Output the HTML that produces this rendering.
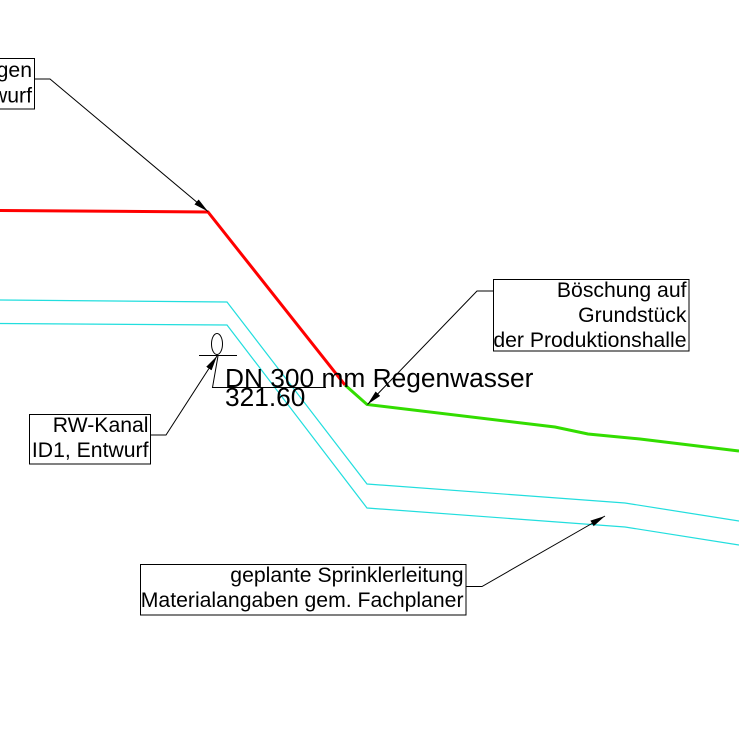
<!DOCTYPE html>
<html>
<head>
<meta charset="utf-8">
<style>
html,body{margin:0;padding:0;background:#fff;}
svg{display:block;}
text{font-family:"Liberation Sans",Arial,sans-serif;fill:#000;}
</style>
</head>
<body>
<svg width="739" height="739" viewBox="0 0 739 739" xmlns="http://www.w3.org/2000/svg">
<defs>
<marker id="ah" viewBox="0 -4 15 8" refX="15" refY="0" markerWidth="15" markerHeight="8" markerUnits="userSpaceOnUse" orient="auto">
<path d="M0,-3.2 L15,0 L0,3.2 z" fill="#000"/>
</marker>
</defs>
<rect width="739" height="739" fill="#fff"/>

<!-- cyan sprinkler lines -->
<polyline points="0,300 227,302 367,484 625,503 739,521" fill="none" stroke="#22dede" stroke-width="1.2"/>
<polyline points="0,323.5 227,325 367,508 625,527 739,545" fill="none" stroke="#22dede" stroke-width="1.2"/>

<!-- red line -->
<polyline points="0,210.5 208,212 345,385" fill="none" stroke="#ff0000" stroke-width="3"/>
<!-- green line -->
<polyline points="345,385 367,404.5 555,427 588,434 640,439 739,451" fill="none" stroke="#33dd00" stroke-width="3"/>

<!-- top-left box -->
<rect x="-200" y="58.5" width="234.5" height="50.5" fill="none" stroke="#000" stroke-width="1"/>
<text x="32" y="77" font-size="21.2" text-anchor="end">Kanal Regen</text>
<text x="32" y="102.5" font-size="21.2" text-anchor="end">ID2, Entwurf</text>
<polyline points="34.5,79 50,79 208,211.5" fill="none" stroke="#000" stroke-width="1" marker-end="url(#ah)"/>

<!-- Böschung box -->
<rect x="493.5" y="279.5" width="195.5" height="71.5" fill="none" stroke="#000" stroke-width="1"/>
<text x="686.5" y="297" font-size="21.2" text-anchor="end">Böschung auf</text>
<text x="686.5" y="322" font-size="21.2" text-anchor="end">Grundstück</text>
<text x="686.5" y="347" font-size="21.2" text-anchor="end">der Produktionshalle</text>
<polyline points="493.5,291 477,291 367.5,404.5" fill="none" stroke="#000" stroke-width="1" marker-end="url(#ah)"/>

<!-- pipe symbol -->
<ellipse cx="217" cy="344" rx="5.5" ry="10.5" fill="none" stroke="#000" stroke-width="1"/>
<line x1="199" y1="355.5" x2="237" y2="355.5" stroke="#000" stroke-width="1"/>
<polyline points="218,356 212.5,387.5 326,387.5" fill="none" stroke="#000" stroke-width="1"/>
<text x="225" y="387" font-size="26.3">DN 300 mm Regenwasser</text>
<text x="225" y="406" font-size="26.3">321.60</text>

<!-- RW-Kanal box -->
<rect x="29.5" y="414.5" width="121" height="49.5" fill="none" stroke="#000" stroke-width="1"/>
<text x="148.5" y="432" font-size="21.2" text-anchor="end">RW-Kanal</text>
<text x="148.5" y="457" font-size="21.2" text-anchor="end">ID1, Entwurf</text>
<polyline points="150.5,435 166,435 217,356" fill="none" stroke="#000" stroke-width="1" marker-end="url(#ah)"/>

<!-- Sprinkler box -->
<rect x="140.5" y="564.5" width="325.5" height="50.5" fill="none" stroke="#000" stroke-width="1"/>
<text x="463.5" y="582" font-size="21.2" text-anchor="end">geplante Sprinklerleitung</text>
<text x="463.5" y="607" font-size="21.2" text-anchor="end">Materialangaben gem. Fachplaner</text>
<polyline points="466,586.5 482,586.5 605,516" fill="none" stroke="#000" stroke-width="1" marker-end="url(#ah)"/>
</svg>
</body>
</html>
